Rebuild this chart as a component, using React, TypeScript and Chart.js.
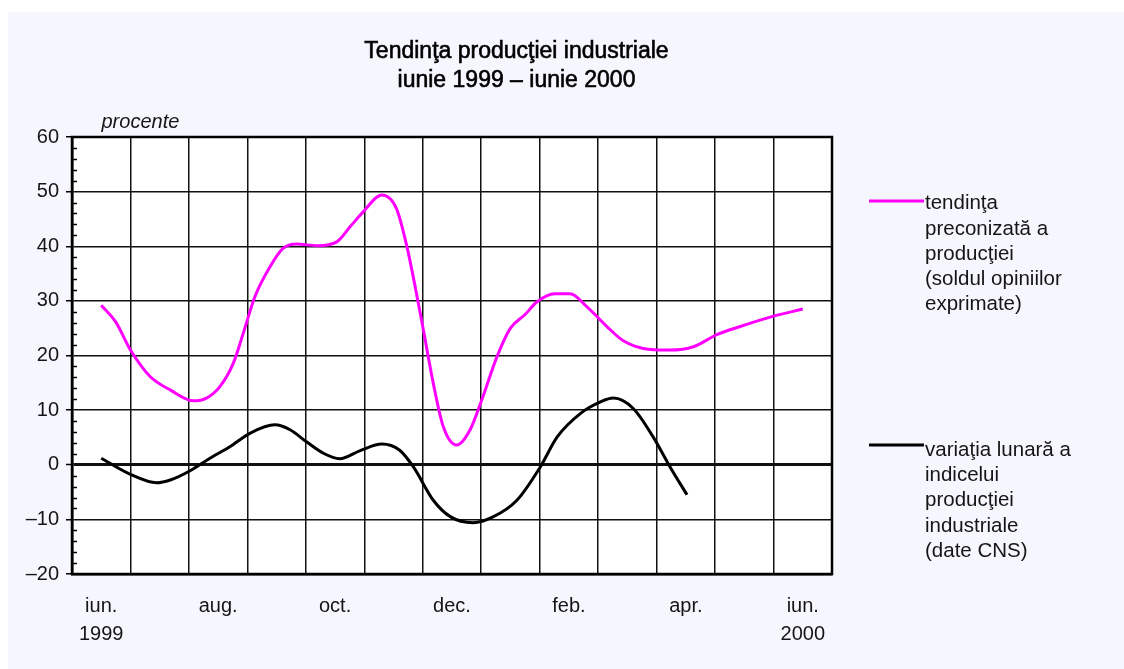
import React, { useEffect, useRef } from 'react';
import { Chart, registerables } from 'chart.js';

Chart.register(...registerables);

// Month slots: iun. 1999 ... iun. 2000 (13 monthly slots)
const tickLabels = ['iun.', '', 'aug.', '', 'oct.', '', 'dec.', '', 'feb.', '', 'apr.', '', 'iun.'];
const tickYears = ['1999', '', '', '', '', '', '', '', '', '', '', '', '2000'];
const yTickValues = [-20, -10, 0, 10, 20, 30, 40, 50, 60];

// Series 1: tendinta preconizata a productiei (month offset from iun. 1999, percent)
const trendMonths = [0, 0.25, 0.5, 0.84, 1.18, 1.58, 1.8, 2.03, 2.26, 2.43, 2.63, 2.89, 3.11, 3.34, 3.7, 4.03, 4.26, 4.48, 4.8, 5.05, 5.23, 5.37, 5.51, 5.68, 5.85, 6.08, 6.31, 6.51, 6.77, 7.0, 7.25, 7.45, 7.76, 8.02, 8.31, 8.65, 8.93, 9.39, 9.73, 10.13, 10.53, 10.93, 11.5, 12.0];
const trendValues = [29.2, 26.1, 21.0, 16.1, 13.7, 11.7, 12.2, 14.3, 18.6, 24.1, 30.8, 36.3, 39.6, 40.4, 40.1, 40.8, 43.6, 46.3, 49.4, 46.9, 39.9, 32.6, 24.7, 14.9, 7.0, 3.6, 6.4, 11.9, 19.8, 25.0, 27.5, 29.8, 31.3, 31.3, 28.9, 25.3, 22.7, 21.1, 21.0, 21.6, 23.8, 25.3, 27.2, 28.5];

// Series 2: variatia lunara a indicelui productiei industriale (date CNS)
const monthlyMonths = [0, 0.49, 0.95, 1.18, 1.52, 1.86, 2.2, 2.55, 2.97, 3.23, 3.51, 3.8, 4.08, 4.43, 4.8, 5.1, 5.34, 5.68, 5.97, 6.36, 6.71, 7.11, 7.51, 7.8, 8.2, 8.54, 8.76, 9.1, 9.44, 9.73, 10.02];
const monthlyValues = [1.2, -1.7, -3.3, -2.8, -1.1, 1.2, 3.3, 5.8, 7.3, 6.4, 4.2, 2.1, 1.1, 2.6, 3.8, 2.7, -0.4, -6.5, -9.5, -10.6, -9.5, -6.5, -0.4, 5.1, 9.4, 11.5, 12.2, 10.3, 5.1, -0.4, -5.5];

const titleLines = ['Tendinţa producţiei industriale', 'iunie 1999 – iunie 2000'];
const legend1Lines = ['tendinţa', 'preconizată a', 'producţiei', '(soldul opiniilor', 'exprimate)'];
const legend2Lines = ['variaţia lunară a', 'indicelui', 'producţiei', 'industriale', '(date CNS)'];
const unitLabel = 'procente';

const FONT = "'Liberation Sans', Arial, Helvetica, sans-serif";
const MAGENTA = '#ff00ff';
const TEXT = '#151515';

const decorPlugin = {
  id: 'decor',
  beforeDraw(chart: any) {
    const { ctx, chartArea } = chart;
    ctx.save();
    ctx.fillStyle = '#ffffff';
    ctx.fillRect(chartArea.left, chartArea.top, chartArea.right - chartArea.left, chartArea.bottom - chartArea.top);
    ctx.restore();
  },
  afterDraw(chart: any) {
    const { ctx, chartArea } = chart;
    const yScale = chart.scales.y;
    ctx.save();
    // minor ticks inside the left axis
    ctx.strokeStyle = '#000';
    ctx.lineWidth = 1.5;
    for (let v = -20; v <= 60; v += 2) {
      if (v % 10 === 0) continue;
      const py = Math.round(yScale.getPixelForValue(v)) + 0.5;
      ctx.beginPath();
      ctx.moveTo(chartArea.left, py);
      ctx.lineTo(chartArea.left + 5, py);
      ctx.stroke();
    }
    // frame
    ctx.lineWidth = 2.5;
    ctx.strokeRect(chartArea.left, chartArea.top, chartArea.right - chartArea.left, chartArea.bottom - chartArea.top);

    // title
    ctx.fillStyle = '#000';
    ctx.strokeStyle = '#000';
    ctx.lineWidth = 0.6;
    ctx.textAlign = 'center';
    ctx.textBaseline = 'alphabetic';
    ctx.font = `23px ${FONT}`;
    titleLines.forEach((t, i) => {
      const y = i === 0 ? 45.5 : 74.7;
      ctx.fillText(t, 508.5, y);
      ctx.strokeText(t, 508.5, y);
    });

    // unit label
    ctx.textAlign = 'left';
    ctx.fillStyle = TEXT;
    ctx.font = `italic 20px ${FONT}`;
    ctx.fillText(unitLabel, 93.5, 116.3);

    // legend
    const drawLegend = (lines: string[], color: string, lineY: number, baseY: number) => {
      ctx.strokeStyle = color;
      ctx.lineWidth = 3;
      ctx.beginPath();
      ctx.moveTo(861, lineY);
      ctx.lineTo(916, lineY);
      ctx.stroke();
      ctx.fillStyle = TEXT;
      ctx.font = `20.5px ${FONT}`;
      lines.forEach((l, i) => ctx.fillText(l, 917, baseY + i * 25.2));
    };
    drawLegend(legend1Lines, MAGENTA, 189, 197.3);
    drawLegend(legend2Lines, '#000', 433, 444);
    ctx.restore();
  },
};

export default function App() {
  const canvasRef = useRef<HTMLCanvasElement | null>(null);

  useEffect(() => {
    if (!canvasRef.current) return;
    const chart = new Chart(canvasRef.current, {
      type: 'line',
      data: {
        datasets: [
          {
            label: 'tendinţa preconizată a producţiei',
            data: trendMonths.map((m, i) => ({ x: m, y: trendValues[i] })),
            borderColor: MAGENTA,
            borderWidth: 3,
            pointRadius: 0,
            cubicInterpolationMode: 'monotone',
            fill: false,
          },
          {
            label: 'variaţia lunară a indicelui producţiei industriale',
            data: monthlyMonths.map((m, i) => ({ x: m, y: monthlyValues[i] })),
            borderColor: '#000',
            borderWidth: 3,
            pointRadius: 0,
            cubicInterpolationMode: 'monotone',
            fill: false,
          },
        ],
      },
      options: {
        animation: false,
        responsive: false,
        devicePixelRatio: 1,
        layout: { padding: { left: 8, right: 292, top: 125, bottom: 0 } },
        plugins: {
          legend: { display: false },
          title: { display: false },
          tooltip: { enabled: false },
        },
        scales: {
          x: {
            type: 'linear',
            min: -0.5,
            max: 12.5,
            afterBuildTicks: (s: any) => {
              s.ticks = tickLabels.map((_, i) => ({ value: i }));
            },
            afterFit: (s: any) => {
              s.height = 95;
            },
            grid: { offset: true, color: '#111', lineWidth: 1.5, drawTicks: false },
            border: { display: true, color: '#000', width: 2.5 },
            ticks: {
              autoSkip: false,
              maxRotation: 0,
              minRotation: 0,
              padding: 18,
              color: TEXT,
              font: { family: FONT, size: 20, lineHeight: 1.43 },
              callback: (_v: any, i: number) => (tickYears[i] ? [tickLabels[i], tickYears[i]] : tickLabels[i]),
            },
          },
          y: {
            type: 'linear',
            min: -20,
            max: 60,
            afterBuildTicks: (s: any) => {
              s.ticks = yTickValues.map((v) => ({ value: v }));
            },
            afterFit: (s: any) => {
              s.width = 56;
            },
            grid: {
              color: '#111',
              lineWidth: (c: any) => (c.tick && c.tick.value === 0 ? 3 : 1.5),
              tickLength: 6,
              tickColor: '#000',
              tickWidth: 1.5,
            },
            border: { display: true, color: '#000', width: 2.5 },
            ticks: {
              padding: 7,
              color: TEXT,
              font: { family: FONT, size: 20 },
              callback: (v: any) => (v < 0 ? '–' + Math.abs(v) : String(v)),
            },
          },
        },
      },
      plugins: [decorPlugin],
    });
    return () => chart.destroy();
  }, []);

  return (
    <div
      style={{
        position: 'absolute',
        left: 8,
        top: 12,
        width: 1116,
        height: 657,
        background: '#f6f6fe',
      }}
    >
      <canvas ref={canvasRef} width={1116} height={657} style={{ display: 'block', width: 1116, height: 657 }} />
    </div>
  );
}
